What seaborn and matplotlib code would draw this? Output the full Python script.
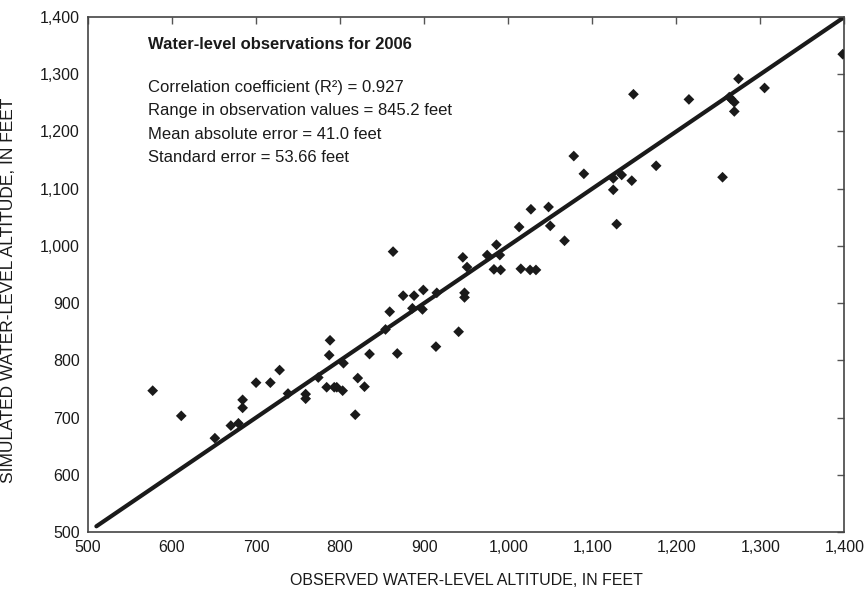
import pandas as pd
import matplotlib.pyplot as plt
import matplotlib.ticker as mticker
import seaborn as sns

# Observed vs simulated water levels (feet)
observed = [577, 611, 651, 670, 679, 684, 684, 700, 717, 728, 738,
            759, 759, 774, 784, 787, 788, 793, 796, 803, 804, 818, 821,
            829, 835, 854, 859, 863, 868, 875, 886, 888, 898, 899, 914,
            915, 941, 946, 948, 948, 951, 975, 983, 986, 990, 991, 1013,
            1015, 1026, 1027, 1033, 1048, 1050, 1067, 1078, 1090, 1125,
            1125, 1129, 1135, 1147, 1149, 1176, 1215, 1255, 1263, 1265,
            1269, 1269, 1274, 1305, 1398]
simulated = [747, 703, 664, 686, 690, 731, 717, 761, 761, 783, 742,
             741, 733, 770, 753, 809, 835, 753, 753, 747, 795, 705, 769,
             754, 811, 854, 885, 990, 812, 913, 891, 913, 889, 923, 824,
             918, 850, 980, 918, 910, 963, 984, 959, 1002, 984, 958, 1033,
             960, 958, 1064, 958, 1068, 1035, 1009, 1157, 1126, 1118,
             1098, 1038, 1124, 1114, 1265, 1140, 1256, 1120, 1260, 1257,
             1251, 1235, 1292, 1276, 1335]
line_x = [510, 1400]
line_y = [510, 1400]

df = pd.DataFrame({'observed': observed, 'simulated': simulated})
line_df = pd.DataFrame({'x': line_x, 'y': line_y})

sns.set_style('white')
plt.rcParams['font.family'] = ['Liberation Sans', 'DejaVu Sans']

fig = plt.figure(figsize=(8.65, 6.03), dpi=100)
ax = fig.add_axes([0.1017, 0.1177, 0.8745, 0.8541])

sns.lineplot(data=line_df, x='x', y='y', color='#1a1a1a', linewidth=3, ax=ax)
sns.scatterplot(data=df, x='observed', y='simulated', marker='D', s=30,
                color='#1a1a1a', edgecolor='none', ax=ax, zorder=3)

ax.set_xlim(500, 1400)
ax.set_ylim(500, 1400)
ax.xaxis.set_major_locator(mticker.MultipleLocator(100))
ax.yaxis.set_major_locator(mticker.MultipleLocator(100))
fmt = mticker.FuncFormatter(lambda v, p: f'{v:,.0f}')
ax.xaxis.set_major_formatter(fmt)
ax.yaxis.set_major_formatter(fmt)
ax.tick_params(direction='in', length=5, width=1, color='#555555',
               top=True, right=True, labelsize=11.5, labelcolor='#1a1a1a', pad=6)
for sp in ax.spines.values():
    sp.set_color('#444444')
    sp.set_linewidth(1.2)

ax.set_xlabel('OBSERVED WATER-LEVEL ALTITUDE, IN FEET', fontsize=11.5, color='#1a1a1a')
ax.set_ylabel('SIMULATED WATER-LEVEL ALTITUDE, IN FEET', fontsize=12.5, color='#1a1a1a')
ax.xaxis.set_label_coords(0.5, -0.08)
ax.yaxis.set_label_coords(-0.095, 0.47)

ax.text(0.079, 0.946, 'Water-level observations for 2006', transform=ax.transAxes,
        fontsize=12, fontweight='bold', va='center', color='#1a1a1a')
stats = ['Correlation coefficient (R²) = 0.927',
         'Range in observation values = 845.2 feet',
         'Mean absolute error = 41.0 feet',
         'Standard error = 53.66 feet']
for i, s in enumerate(stats):
    ax.text(0.079, 0.864 - i * 0.0458, s, transform=ax.transAxes,
            fontsize=12, va='center', color='#1a1a1a')

fig.savefig('out.png', dpi=100)
